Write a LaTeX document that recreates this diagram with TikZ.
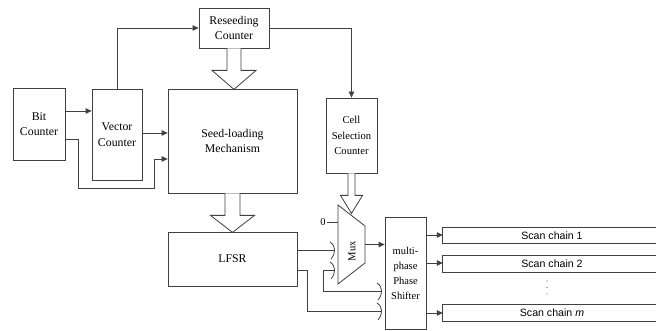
\documentclass[tikz,border=0pt]{standalone}
\usepackage{fontspec}
\setmainfont{Liberation Serif}
\newfontfamily\arialf{Liberation Sans}
\usetikzlibrary{arrows.meta,calc}
\newcommand\busend[1]{\draw[ln] ($(#1)+(-4,-8)$) .. controls ($(#1)+(2,-4)$) and ($(#1)+(2,3)$) .. ($(#1)+(-3,9)$);}
\tikzset{
  box/.style={draw=black!75, line width=0.8pt, fill=white, inner sep=0pt, align=center,
              font=\fontsize{11.8}{15.5}\selectfont},
  ln/.style={draw=black!75, line width=0.8pt},
  arr/.style={ln, -{Triangle[length=6pt,width=5.5pt]}},
  hol/.style={draw=black!75, line width=0.8pt, fill=white, line join=miter},
  chainbox/.style={inner sep=0pt, minimum width=213pt, font=\arialf\fontsize{10.6}{12}\selectfont},
  small/.style={font=\fontsize{10.6}{15.5}\selectfont}
}
\begin{document}
\begin{tikzpicture}[x=1pt,y=-1pt]
\useasboundingbox (0,0) rectangle (656,331);
\fill[white] (0,0) rectangle (656,331);

% boxes
\node[box, minimum width=52pt, minimum height=72pt] (bit) at (39,124) {Bit\\Counter};
\node[box, minimum width=50pt, minimum height=91pt] (vec) at (117,134.5) {Vector\\Counter};
\node[box, minimum width=70pt, minimum height=40pt] (res) at (234,28) {Reseeding\\Counter};
\node[box, minimum width=129pt, minimum height=104pt] (seed) at (232.5,141) {Seed-loading\\Mechanism};
\node[box, small, minimum width=51pt, minimum height=75pt] (cell) at (351.5,135.5) {Cell\\Selection\\Counter};
\node[box, minimum width=129pt, minimum height=54pt] (lfsr) at (232.5,259) {LFSR};
\node[box, font=\fontsize{10.5}{15}\selectfont, minimum width=41pt, minimum height=112pt] (ps) at (405.5,273) {multi-\\phase\\Phase\\Shifter};

% mux
\coordinate (mtl) at (338,205);
\coordinate (mtr) at (365,226);
\coordinate (mbr) at (365,263);
\coordinate (mbl) at (338,284);
\draw[ln, fill=white, line join=miter] (mtl) -- (mtr) -- (mbr) -- (mbl) -- cycle;
\node[rotate=90, font=\fontsize{10.6}{12}\selectfont, inner sep=0pt] (muxt) at (352,251) {Mux};
\node[font=\fontsize{10.5}{12}\selectfont, inner sep=1pt] (zero) at (323,222) {0};
\draw[ln] (zero.east) -- (zero.east -| mtl);

% connectors upper part
\coordinate (y111) at (0,111);
\coordinate (y133) at (0,133);
\coordinate (y139) at (0,139);
\coordinate (y159) at (0,159);
\draw[arr] (bit.east |- y111) -- (vec.west |- y111);
\draw[arr] (vec.east |- y133) -- (seed.west |- y133);
\draw[arr] (bit.east |- y139) -- (78,139) -- (78,188) -- (154,188) -- (154,159) -- (seed.west |- y159);
\draw[arr] (vec.north) |- (res.west);
\draw[arr] (res.east) -| (cell.north);

% hollow arrows
\draw[hol] (res.south) ++(-7,0) -- ++(0,22) -- ++(-15,0) -- ++(22,19) -- ++(22,-19) -- ++(-15,0) -- ++(0,-22);
\draw[hol] (seed.south) ++(-7.5,0) -- ++(0,22) -- ++(-14.5,0) -- ++(22,17) -- ++(22,-17) -- ++(-14.5,0) -- ++(0,-22);
\draw[hol] (cell.south) ++(-3.5,0) -- ++(0,22) -- ++(-7.5,0) -- ++(11,18) -- ++(11,-18) -- ++(-7.5,0) -- ++(0,-22);

% mux output
\coordinate (y244) at (0,244.5);
\draw[arr] (mtr |- y244) -- (ps.west |- y244);

% LFSR buses
\coordinate (in1) at (334,250);
\coordinate (in2) at (334,270);
\coordinate (in3) at (381,291);
\coordinate (in4) at (381,311);
\draw[ln] (lfsr.east |- in1) -- (in1);
\busend{in1}
\draw[ln] (lfsr.east |- in2) -- (307,270) -- (307,311) -- (in4);
\busend{in4}
\draw[ln] (in2) -- (323,270) -- (323,291) -- (in3);
\busend{in2}
\busend{in3}

% scan chains
\node[chainbox, minimum height=15pt] (sc1) at (549.5,235.5) {\hspace*{5pt}Scan chain 1};
\node[chainbox, minimum height=16pt] (sc2) at (549.5,264) {\hspace*{5pt}Scan chain 2};
\node[chainbox, minimum height=16pt] (scm) at (549.5,313) {\hspace*{5pt}Scan chain \textit{m}};
\foreach \s in {sc1,sc2,scm}{
  \draw[ln, line width=1pt] (\s.north east) -- (\s.north west) -- (\s.south west) -- (\s.south east);
}
\coordinate (y235) at (0,235);
\coordinate (y263) at (0,263);
\coordinate (y313) at (0,313);
\draw[arr] (ps.east |- y235) -- (sc1.west |- y235);
\draw[arr] (ps.east |- y263) -- (sc2.west |- y263);
\draw[arr] (ps.east |- y313) -- (scm.west |- y313);
\foreach \yy in {281,287.5,294}{
  \fill[black!65] (547,\yy) circle (0.7);
}
\end{tikzpicture}
\end{document}
